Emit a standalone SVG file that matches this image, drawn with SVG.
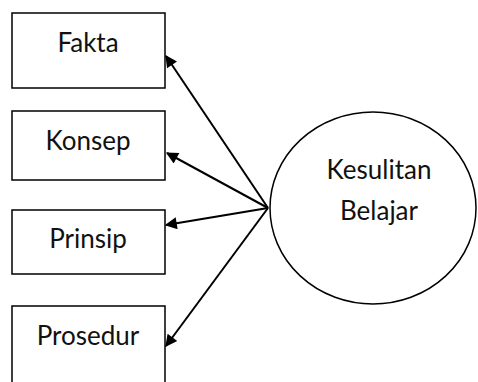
<svg xmlns="http://www.w3.org/2000/svg" width="478" height="382" viewBox="0 0 478 382">
<style>
.box{fill:#fff;stroke:#000;stroke-width:1.5}
.t{font-family:Lato,"Open Sans",sans-serif;font-size:26px;fill:#111;text-anchor:middle}
.c{stroke:#000;stroke-width:2;fill:none;marker-end:url(#ah)}
</style>
<defs>
<marker id="ah" viewBox="0 0 10 10" refX="9" refY="5" markerWidth="7" markerHeight="6" markerUnits="strokeWidth" orient="auto">
<path d="M0,0 L10,5 L0,10 z" fill="#000"/>
</marker>
</defs>
<g id="fakta"><rect class="box" x="12" y="13" width="153" height="75"/><text class="t" x="88" y="52">Fakta</text></g>
<g id="konsep"><rect class="box" x="12" y="111" width="153" height="69"/><text class="t" x="88" y="150">Konsep</text></g>
<g id="prinsip"><rect class="box" x="12" y="210" width="153" height="64"/><text class="t" x="88" y="248">Prinsip</text></g>
<g id="prosedur"><rect class="box" x="12" y="306" width="153" height="80"/><text class="t" x="88" y="345">Prosedur</text></g>
<g id="kesulitan"><ellipse class="box" cx="373" cy="208" rx="103" ry="96"/><text class="t" x="379" y="179">Kesulitan</text><text class="t" x="379" y="220">Belajar</text></g>
<g id="connectors">
<line class="c" x1="268" y1="208" x2="166" y2="56"/>
<line class="c" x1="268" y1="208" x2="167" y2="153"/>
<line class="c" x1="268" y1="208" x2="166" y2="225"/>
<line class="c" x1="268" y1="208" x2="166" y2="346"/>
</g>
</svg>
